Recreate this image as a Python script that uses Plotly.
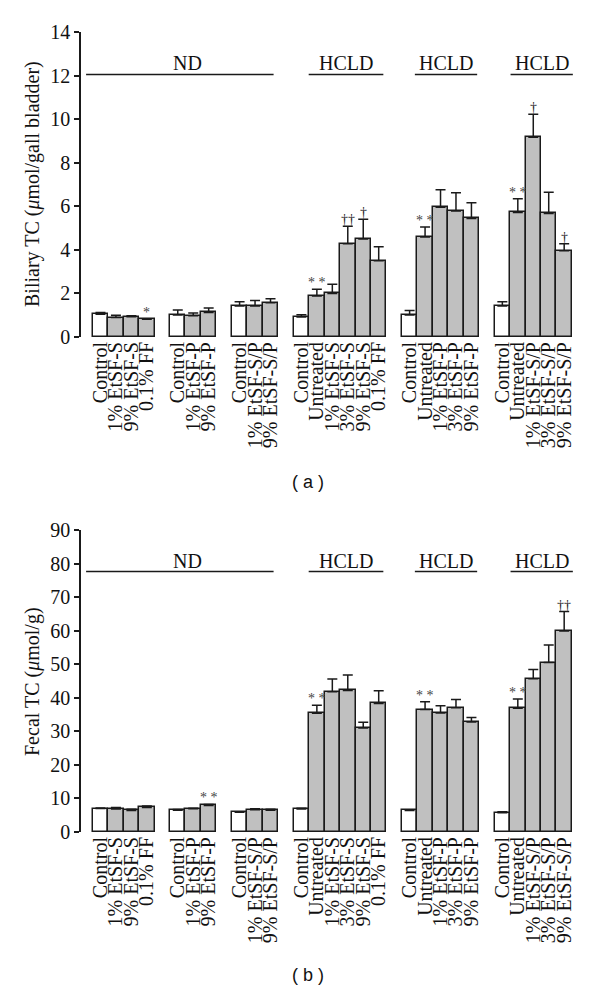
import plotly.graph_objects as go

# ── Dados ─────────────────────────────────────────────────────────────────────
GROUP_LABELS = [
    ["Control", "1% EtSF-S", "9% EtSF-S", "0.1% FF"],
    ["Control", "1% EtSF-P", "9% EtSF-P"],
    ["Control", "1% EtSF-S/P", "9% EtSF-S/P"],
    ["Control", "Untreated", "1% EtSF-S", "3% EtSF-S", "9% EtSF-S", "0.1% FF"],
    ["Control", "Untreated", "1% EtSF-P", "3% EtSF-P", "9% EtSF-P"],
    ["Control", "Untreated", "1% EtSF-S/P", "3% EtSF-S/P", "9% EtSF-S/P"],
]

# (a) Biliary TC
biliary_mean = [
    [1.04, 0.89, 0.93, 0.81],
    [1.01, 0.98, 1.13],
    [1.42, 1.42, 1.57],
    [0.92, 1.88, 2.00, 4.28, 4.50, 3.50],
    [1.01, 4.59, 5.96, 5.78, 5.44],
    [1.42, 5.72, 9.17, 5.67, 3.96],
]
biliary_err = [
    [0.09, 0.11, 0.04, 0.03],
    [0.23, 0.12, 0.20],
    [0.20, 0.25, 0.19],
    [0.10, 0.31, 0.42, 0.80, 0.91, 0.64],
    [0.21, 0.46, 0.80, 0.84, 0.72],
    [0.20, 0.63, 1.06, 0.97, 0.32],
]
biliary_sig = [
    ["", "", "", "*"],
    ["", "", ""],
    ["", "", ""],
    ["", "* *", "", "††", "†", ""],
    ["", "* *", "", "", ""],
    ["", "* *", "†", "", "†"],
]

# (b) Fecal TC
fecal_mean = [
    [7.0, 6.84, 6.44, 7.33],
    [6.5, 6.9, 7.9],
    [5.85, 6.6, 6.5],
    [6.84, 35.4, 41.8, 42.2, 31.0, 38.3],
    [6.44, 36.5, 35.5, 37.0, 32.8],
    [5.75, 36.9, 45.7, 50.5, 59.9],
]
fecal_err = [
    [0.15, 0.45, 0.35, 0.45],
    [0.2, 0.2, 0.3],
    [0.15, 0.3, 0.3],
    [0.25, 2.4, 3.8, 4.6, 1.7, 3.8],
    [0.2, 2.3, 2.1, 2.5, 1.3],
    [0.25, 2.7, 2.7, 5.2, 5.8],
]
fecal_sig = [
    ["", "", "", ""],
    ["", "", "* *"],
    ["", "", ""],
    ["", "* *", "", "", "", ""],
    ["", "* *", "", "", ""],
    ["", "* *", "", "", "††"],
]

DIET_LABELS = ["ND", "HCLD", "HCLD", "HCLD"]

# ── Estilo ────────────────────────────────────────────────────────────────────
SERIF = "'Liberation Serif', 'Times New Roman', serif"
SANS = "'Liberation Sans', Arial, sans-serif"
GRAY = "#c0c0c0"
LINE = "#1a1a1a"
TXT = "#111111"

# a página tem 8 px de margem no body: figura menor e coordenadas em pixels da página
W, H, OFF = 592, 983, 8
px_x = lambda p: (p - OFF) / W
px_y = lambda p: 1 - (p - OFF) / H

# posições: uma "fatia" vazia entre grupos
xpos, labels = [], []
slot = 0
for grp in GROUP_LABELS:
    for lab in grp:
        xpos.append(slot)
        labels.append(lab)
        slot += 1
    slot += 1

flat = lambda ll: [v for g in ll for v in g]
colors = ["white" if lab == "Control" else GRAY for lab in labels]

# linhas das dietas (em unidades de fatia) e centro do texto
BRACKETS = [(-0.93, 11.2, 5.6), (13.47, 18.3, 15.9), (20.34, 24.37, 22.36), (26.53, 30.56, 28.55)]

fig = go.Figure()
annotations, shapes = [], []

panels = [
    dict(mean=biliary_mean, err=biliary_err, sig=biliary_sig, xa="x", ya="y",
         dom=[px_y(337), px_y(32)], rng=[0, 14], dt=2, line_y=12.05,
         title="Biliary TC (<i>μ</i>mol/gall bladder)", ty=px_y(184), cap="( a )", cy=px_y(482)),
    dict(mean=fecal_mean, err=fecal_err, sig=fecal_sig, xa="x2", ya="y2",
         dom=[px_y(832), px_y(530)], rng=[0, 90], dt=10, line_y=77.6,
         title="Fecal TC (<i>μ</i>mol/g)", ty=px_y(682), cap="( b )", cy=px_y(975)),
]

for p in panels:
    m, e = flat(p["mean"]), flat(p["err"])
    fig.add_trace(go.Bar(
        x=xpos, y=m, width=1.0,
        marker=dict(color=colors, line=dict(color=LINE, width=1.5)),
        error_y=dict(type="data", array=e, arrayminus=[0] * len(e), symmetric=False,
                     color=LINE, thickness=1.5, width=5),
        xaxis=p["xa"], yaxis=p["ya"], showlegend=False,
    ))
    for x, y, err, s in zip(xpos, m, e, flat(p["sig"])):
        if s:
            annotations.append(dict(
                x=x, y=y + err, xref=p["xa"], yref=p["ya"], text=s, showarrow=False,
                xanchor="center", yanchor="bottom", yshift=-3,
                font=dict(family=SERIF, size=14, color="#444444" if "*" in s else "#222222"),
            ))
    for (x0, x1, xc), diet in zip(BRACKETS, DIET_LABELS):
        shapes.append(dict(type="line", xref=p["xa"], yref=p["ya"], x0=x0, x1=x1,
                           y0=p["line_y"], y1=p["line_y"], line=dict(color=LINE, width=1.5)))
        annotations.append(dict(x=xc, y=p["line_y"], xref=p["xa"], yref=p["ya"], text=diet,
                                showarrow=False, xanchor="center", yanchor="middle", yshift=11,
                                font=dict(family=SERIF, size=20, color=TXT)))
    annotations.append(dict(x=px_x(32), y=p["ty"], xref="paper", yref="paper", text=p["title"],
                            textangle=-90, showarrow=False, xanchor="center", yanchor="middle",
                            font=dict(family=SERIF, size=20, color=TXT)))
    annotations.append(dict(x=px_x(308), y=p["cy"], xref="paper", yref="paper", text=p["cap"],
                            showarrow=False, xanchor="center", yanchor="middle",
                            font=dict(family=SANS, size=18, color=TXT)))

XAX = dict(range=[-1.26, 30.7], domain=[px_x(81), px_x(575)], showline=False, showgrid=False,
           zeroline=False, ticks="", tickmode="array", tickvals=xpos, ticktext=labels,
           tickangle=-90, tickfont=dict(family=SERIF, size=20, color=TXT))

def yax(p):
    return dict(range=p["rng"], domain=p["dom"], dtick=p["dt"], showline=True,
                linecolor=LINE, linewidth=1.5, ticks="outside", ticklen=5,
                tickcolor=LINE, tickwidth=1.5, showgrid=False, zeroline=False,
                tickfont=dict(family=SERIF, size=20, color=TXT))

fig.update_layout(
    template="none",
    width=W, height=H, autosize=False,
    margin=dict(l=0, r=0, t=0, b=0),
    paper_bgcolor="white", plot_bgcolor="white",
    bargap=0,
    xaxis=dict(XAX, anchor="y"),
    yaxis=dict(yax(panels[0]), anchor="x"),
    xaxis2=dict(XAX, anchor="y2"),
    yaxis2=dict(yax(panels[1]), anchor="x2"),
    shapes=shapes,
    annotations=annotations,
)

fig.write_html("out.html")
